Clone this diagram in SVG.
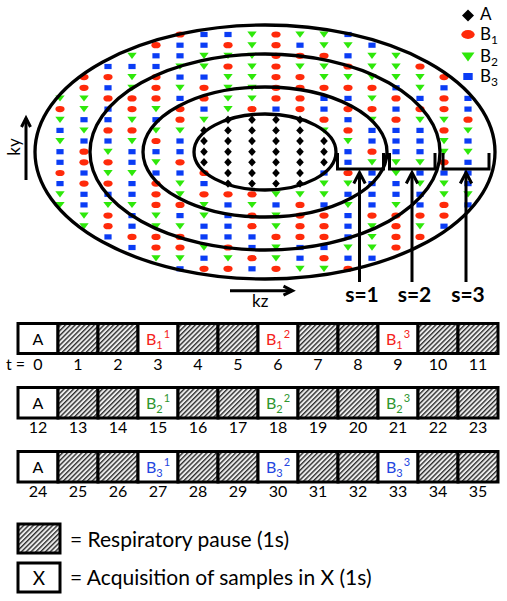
<svg xmlns="http://www.w3.org/2000/svg" xmlns:xlink="http://www.w3.org/1999/xlink" width="507" height="601" viewBox="0 0 507 601">
<style>
text{font-family:Lato,"Open Sans","Liberation Sans",sans-serif;fill:#000}
.n{font-size:16px;text-anchor:middle}
.bx{font-size:16px;text-anchor:middle}
.sm{font-size:11px}
.s{font-size:21px;font-weight:bold;text-anchor:middle}
.ell{fill:none;stroke:#000;stroke-width:3.3}
.ln{fill:none;stroke:#000;stroke-width:3;stroke-linecap:butt}
.cw{fill:#fff;stroke:#000;stroke-width:3}
.ch{fill:url(#h);stroke:#000;stroke-width:3}
.red{fill:#f5221a}.grn{fill:#2f962f}.blu{fill:#2446e0}
</style>
<defs>
<pattern id="h" width="3.4" height="3.4" patternUnits="userSpaceOnUse" patternTransform="rotate(45)">
<rect width="3.4" height="3.4" fill="#ececec"/>
<line x1="0.7" y1="0" x2="0.7" y2="3.4" stroke="#222" stroke-width="1.3"/>
</pattern>
<path id="d" d="M0,-4.2L3.8,0L0,4.2L-3.8,0Z" fill="#000"/>
<ellipse id="r" rx="4.6" ry="3.1" fill="#ff2a0a"/>
<path id="g" d="M-4.7,-3L4.7,-3L0,3.2Z" fill="#2ee80a"/>
<rect id="b" x="-3.6" y="-2.6" width="7.2" height="5.2" fill="#0a3cf5"/>
</defs>

<g id="samples">
<g transform="translate(0,34.5)"><use href="#r" x="180"/><use href="#b" x="204"/><use href="#b" x="228"/><use href="#g" x="252"/><use href="#r" x="276"/><use href="#g" x="300"/><use href="#g" x="324"/><use href="#b" x="348"/></g>
<g transform="translate(0,45.2)"><use href="#r" x="156"/><use href="#b" x="180"/><use href="#b" x="204"/><use href="#r" x="228"/><use href="#g" x="252"/><use href="#r" x="276"/><use href="#b" x="300"/><use href="#g" x="324"/><use href="#g" x="348"/><use href="#b" x="372"/></g>
<g transform="translate(0,55.8)"><use href="#g" x="132"/><use href="#b" x="156"/><use href="#b" x="180"/><use href="#g" x="204"/><use href="#g" x="228"/><use href="#g" x="252"/><use href="#r" x="276"/><use href="#r" x="300"/><use href="#r" x="324"/><use href="#b" x="348"/><use href="#g" x="372"/><use href="#g" x="396"/></g>
<g transform="translate(0,66.5)"><use href="#b" x="108"/><use href="#b" x="132"/><use href="#b" x="156"/><use href="#g" x="180"/><use href="#g" x="204"/><use href="#r" x="228"/><use href="#g" x="252"/><use href="#r" x="276"/><use href="#g" x="300"/><use href="#g" x="324"/><use href="#r" x="348"/><use href="#g" x="372"/><use href="#g" x="396"/><use href="#r" x="420"/></g>
<g transform="translate(0,77.1)"><use href="#r" x="84"/><use href="#r" x="108"/><use href="#g" x="132"/><use href="#r" x="156"/><use href="#b" x="180"/><use href="#b" x="204"/><use href="#g" x="228"/><use href="#g" x="252"/><use href="#r" x="276"/><use href="#r" x="300"/><use href="#g" x="324"/><use href="#g" x="348"/><use href="#g" x="372"/><use href="#g" x="396"/><use href="#g" x="420"/><use href="#r" x="444"/></g>
<g transform="translate(0,87.8)"><use href="#r" x="84"/><use href="#b" x="108"/><use href="#g" x="132"/><use href="#r" x="156"/><use href="#g" x="180"/><use href="#r" x="204"/><use href="#g" x="228"/><use href="#g" x="252"/><use href="#r" x="276"/><use href="#r" x="300"/><use href="#r" x="324"/><use href="#r" x="348"/><use href="#r" x="372"/><use href="#b" x="396"/><use href="#g" x="420"/><use href="#b" x="444"/></g>
<g transform="translate(0,98.4)"><use href="#g" x="60"/><use href="#g" x="84"/><use href="#r" x="108"/><use href="#r" x="132"/><use href="#r" x="156"/><use href="#b" x="180"/><use href="#r" x="204"/><use href="#g" x="228"/><use href="#g" x="252"/><use href="#r" x="276"/><use href="#r" x="300"/><use href="#b" x="324"/><use href="#b" x="348"/><use href="#g" x="372"/><use href="#r" x="396"/><use href="#b" x="420"/><use href="#r" x="444"/><use href="#b" x="468"/></g>
<g transform="translate(0,109.1)"><use href="#r" x="60"/><use href="#g" x="84"/><use href="#b" x="108"/><use href="#r" x="132"/><use href="#g" x="156"/><use href="#r" x="180"/><use href="#b" x="204"/><use href="#g" x="228"/><use href="#r" x="252"/><use href="#b" x="276"/><use href="#r" x="300"/><use href="#b" x="324"/><use href="#r" x="348"/><use href="#r" x="372"/><use href="#b" x="396"/><use href="#r" x="420"/><use href="#r" x="444"/><use href="#b" x="468"/></g>
<g transform="translate(0,119.7)"><use href="#g" x="60"/><use href="#b" x="84"/><use href="#b" x="108"/><use href="#g" x="132"/><use href="#b" x="156"/><use href="#r" x="180"/><use href="#g" x="204"/><use href="#d" x="228"/><use href="#d" x="252"/><use href="#d" x="276"/><use href="#d" x="300"/><use href="#r" x="324"/><use href="#b" x="348"/><use href="#g" x="372"/><use href="#r" x="396"/><use href="#g" x="420"/><use href="#g" x="444"/><use href="#r" x="468"/></g>
<g transform="translate(0,130.4)"><use href="#b" x="60"/><use href="#g" x="84"/><use href="#r" x="108"/><use href="#r" x="132"/><use href="#g" x="156"/><use href="#g" x="180"/><use href="#d" x="204"/><use href="#d" x="228"/><use href="#d" x="252"/><use href="#d" x="276"/><use href="#d" x="300"/><use href="#g" x="324"/><use href="#r" x="348"/><use href="#b" x="372"/><use href="#b" x="396"/><use href="#b" x="420"/><use href="#r" x="444"/><use href="#g" x="468"/></g>
<g transform="translate(0,141)"><use href="#g" x="60"/><use href="#b" x="84"/><use href="#b" x="108"/><use href="#g" x="132"/><use href="#r" x="156"/><use href="#b" x="180"/><use href="#d" x="204"/><use href="#d" x="228"/><use href="#d" x="252"/><use href="#d" x="276"/><use href="#d" x="300"/><use href="#d" x="324"/><use href="#g" x="348"/><use href="#b" x="372"/><use href="#b" x="396"/><use href="#b" x="420"/><use href="#g" x="444"/><use href="#b" x="468"/></g>
<g transform="translate(0,151.7)"><use href="#b" x="60"/><use href="#r" x="84"/><use href="#g" x="108"/><use href="#b" x="132"/><use href="#b" x="156"/><use href="#b" x="180"/><use href="#d" x="204"/><use href="#d" x="228"/><use href="#d" x="252"/><use href="#d" x="276"/><use href="#d" x="300"/><use href="#d" x="324"/><use href="#b" x="348"/><use href="#r" x="372"/><use href="#b" x="396"/><use href="#b" x="420"/><use href="#g" x="444"/><use href="#g" x="468"/></g>
<g transform="translate(0,162.3)"><use href="#b" x="60"/><use href="#r" x="84"/><use href="#r" x="108"/><use href="#b" x="132"/><use href="#g" x="156"/><use href="#r" x="180"/><use href="#d" x="204"/><use href="#d" x="228"/><use href="#d" x="252"/><use href="#d" x="276"/><use href="#d" x="300"/><use href="#d" x="324"/><use href="#b" x="348"/><use href="#g" x="372"/><use href="#g" x="396"/><use href="#g" x="420"/><use href="#r" x="444"/><use href="#b" x="468"/></g>
<g transform="translate(0,173)"><use href="#r" x="60"/><use href="#b" x="84"/><use href="#g" x="108"/><use href="#g" x="132"/><use href="#b" x="156"/><use href="#b" x="180"/><use href="#r" x="204"/><use href="#d" x="228"/><use href="#d" x="252"/><use href="#d" x="276"/><use href="#d" x="300"/><use href="#b" x="324"/><use href="#r" x="348"/><use href="#b" x="372"/><use href="#g" x="396"/><use href="#b" x="420"/><use href="#b" x="444"/><use href="#b" x="468"/></g>
<g transform="translate(0,183.6)"><use href="#b" x="60"/><use href="#r" x="84"/><use href="#r" x="108"/><use href="#b" x="132"/><use href="#r" x="156"/><use href="#g" x="180"/><use href="#b" x="204"/><use href="#d" x="228"/><use href="#d" x="252"/><use href="#d" x="276"/><use href="#d" x="300"/><use href="#g" x="324"/><use href="#g" x="348"/><use href="#b" x="372"/><use href="#b" x="396"/><use href="#g" x="420"/><use href="#g" x="444"/><use href="#b" x="468"/></g>
<g transform="translate(0,194.3)"><use href="#g" x="60"/><use href="#b" x="84"/><use href="#b" x="108"/><use href="#b" x="132"/><use href="#r" x="156"/><use href="#g" x="180"/><use href="#r" x="204"/><use href="#r" x="228"/><use href="#r" x="252"/><use href="#g" x="276"/><use href="#g" x="300"/><use href="#g" x="324"/><use href="#b" x="348"/><use href="#b" x="372"/><use href="#b" x="396"/><use href="#b" x="420"/><use href="#g" x="444"/><use href="#g" x="468"/></g>
<g transform="translate(0,204.9)"><use href="#g" x="60"/><use href="#b" x="84"/><use href="#g" x="108"/><use href="#g" x="132"/><use href="#r" x="156"/><use href="#r" x="180"/><use href="#g" x="204"/><use href="#b" x="228"/><use href="#g" x="252"/><use href="#b" x="276"/><use href="#r" x="300"/><use href="#b" x="324"/><use href="#g" x="348"/><use href="#b" x="372"/><use href="#g" x="396"/><use href="#b" x="420"/><use href="#r" x="444"/><use href="#b" x="468"/></g>
<g transform="translate(0,215.6)"><use href="#g" x="84"/><use href="#r" x="108"/><use href="#b" x="132"/><use href="#g" x="156"/><use href="#b" x="180"/><use href="#g" x="204"/><use href="#b" x="228"/><use href="#r" x="252"/><use href="#g" x="276"/><use href="#r" x="300"/><use href="#r" x="324"/><use href="#b" x="348"/><use href="#r" x="372"/><use href="#r" x="396"/><use href="#r" x="420"/><use href="#r" x="444"/></g>
<g transform="translate(0,226.2)"><use href="#g" x="84"/><use href="#r" x="108"/><use href="#b" x="132"/><use href="#g" x="156"/><use href="#g" x="180"/><use href="#b" x="204"/><use href="#b" x="228"/><use href="#r" x="252"/><use href="#g" x="276"/><use href="#r" x="300"/><use href="#r" x="324"/><use href="#b" x="348"/><use href="#g" x="372"/><use href="#r" x="396"/><use href="#g" x="420"/><use href="#b" x="444"/></g>
<g transform="translate(0,236.9)"><use href="#b" x="108"/><use href="#r" x="132"/><use href="#r" x="156"/><use href="#r" x="180"/><use href="#b" x="204"/><use href="#b" x="228"/><use href="#b" x="252"/><use href="#r" x="276"/><use href="#r" x="300"/><use href="#r" x="324"/><use href="#b" x="348"/><use href="#g" x="372"/><use href="#r" x="396"/><use href="#r" x="420"/></g>
<g transform="translate(0,247.5)"><use href="#b" x="132"/><use href="#r" x="156"/><use href="#r" x="180"/><use href="#g" x="204"/><use href="#r" x="228"/><use href="#b" x="252"/><use href="#g" x="276"/><use href="#b" x="300"/><use href="#b" x="324"/><use href="#g" x="348"/><use href="#g" x="372"/><use href="#r" x="396"/></g>
<g transform="translate(0,258.2)"><use href="#g" x="156"/><use href="#g" x="180"/><use href="#b" x="204"/><use href="#g" x="228"/><use href="#r" x="252"/><use href="#g" x="276"/><use href="#b" x="300"/><use href="#r" x="324"/><use href="#b" x="348"/><use href="#b" x="372"/></g>
<g transform="translate(0,268.8)"><use href="#b" x="180"/><use href="#r" x="204"/><use href="#r" x="228"/><use href="#b" x="252"/><use href="#r" x="276"/><use href="#g" x="300"/><use href="#g" x="324"/><use href="#r" x="348"/></g>
</g>

<g id="rings">
<ellipse class="ell" cx="265" cy="152" rx="230" ry="127"/>
<ellipse class="ell" cx="265" cy="152" rx="175" ry="98"/>
<ellipse class="ell" cx="265" cy="152" rx="122" ry="65"/>
<ellipse class="ell" cx="265" cy="152" rx="71" ry="38"/>
</g>

<g id="legend-top">
<path d="M468,9.5L474,15.5L468,21.5L462,15.5Z" fill="#000"/>
<text x="480" y="20" font-size="17">A</text>
<ellipse cx="468" cy="34.5" rx="6.7" ry="4.4" fill="#ff2a0a"/>
<text x="480" y="39.5" font-size="17">B<tspan font-size="12" dy="4">1</tspan></text>
<path d="M461.5,52.5L474.5,52.5L468,61.5Z" fill="#2ee80a"/>
<text x="480" y="61.5" font-size="17">B<tspan font-size="12" dy="4">2</tspan></text>
<rect x="463.3" y="73" width="9.4" height="7" fill="#0a3cf5"/>
<text x="480" y="82" font-size="17">B<tspan font-size="12" dy="4">3</tspan></text>
</g>

<g id="axes">
<line class="ln" x1="26" y1="180" x2="26" y2="118.5"/>
<path class="ln" d="M21.5,127L26,118L30.5,127"/>
<text transform="translate(20,147) rotate(-90)" font-size="17" text-anchor="middle">ky</text>
<line class="ln" x1="230" y1="290.7" x2="292" y2="290.7"/>
<path class="ln" d="M283.5,286.2L292.5,290.7L283.5,295.2"/>
<text x="252" y="307" font-size="17">kz</text>
</g>

<g id="shells">
<path class="ln" d="M337.5,153V169H383.5V153"/>
<path class="ln" d="M389.5,153V169H435V153"/>
<path class="ln" d="M443,153V169H489V153"/>
<line class="ln" x1="359.5" y1="282" x2="359.5" y2="173"/>
<path class="ln" d="M353.8,183.5L359.5,172.5L365.2,183.5"/>
<line class="ln" x1="412" y1="282" x2="412" y2="173"/>
<path class="ln" d="M406.3,183.5L412,172.5L417.7,183.5"/>
<line class="ln" x1="466" y1="282" x2="466" y2="173"/>
<path class="ln" d="M460.3,183.5L466,172.5L471.7,183.5"/>
<text class="s" x="362" y="302">s=1</text>
<text class="s" x="414.5" y="302">s=2</text>
<text class="s" x="468" y="302">s=3</text>
</g>

<g id="row1">
<rect class="cw" x="18" y="323.5" width="40" height="30"/>
<rect class="ch" x="58" y="323.5" width="40" height="30"/>
<rect class="ch" x="98" y="323.5" width="40" height="30"/>
<rect class="cw" x="138" y="323.5" width="40" height="30"/>
<rect class="ch" x="178" y="323.5" width="40" height="30"/>
<rect class="ch" x="218" y="323.5" width="40" height="30"/>
<rect class="cw" x="258" y="323.5" width="40" height="30"/>
<rect class="ch" x="298" y="323.5" width="40" height="30"/>
<rect class="ch" x="338" y="323.5" width="40" height="30"/>
<rect class="cw" x="378" y="323.5" width="40" height="30"/>
<rect class="ch" x="418" y="323.5" width="40" height="30"/>
<rect class="ch" x="458" y="323.5" width="40" height="30"/>
<text class="bx" x="38" y="345">A</text>
<text class="bx red" x="158" y="345">B<tspan class="sm" dy="4">1</tspan><tspan class="sm" dx="1" dy="-11">1</tspan></text>
<text class="bx red" x="278" y="345">B<tspan class="sm" dy="4">1</tspan><tspan class="sm" dx="1" dy="-11">2</tspan></text>
<text class="bx red" x="398" y="345">B<tspan class="sm" dy="4">1</tspan><tspan class="sm" dx="1" dy="-11">3</tspan></text>
<text x="6" y="370" font-size="16">t =</text>
<text class="n" x="38" y="370">0</text><text class="n" x="78" y="370">1</text><text class="n" x="118" y="370">2</text><text class="n" x="158" y="370">3</text><text class="n" x="198" y="370">4</text><text class="n" x="238" y="370">5</text><text class="n" x="278" y="370">6</text><text class="n" x="318" y="370">7</text><text class="n" x="358" y="370">8</text><text class="n" x="398" y="370">9</text><text class="n" x="438" y="370">10</text><text class="n" x="478" y="370">11</text>
</g>

<g id="row2">
<rect class="cw" x="18" y="387.5" width="40" height="30.5"/>
<rect class="ch" x="58" y="387.5" width="40" height="30.5"/>
<rect class="ch" x="98" y="387.5" width="40" height="30.5"/>
<rect class="cw" x="138" y="387.5" width="40" height="30.5"/>
<rect class="ch" x="178" y="387.5" width="40" height="30.5"/>
<rect class="ch" x="218" y="387.5" width="40" height="30.5"/>
<rect class="cw" x="258" y="387.5" width="40" height="30.5"/>
<rect class="ch" x="298" y="387.5" width="40" height="30.5"/>
<rect class="ch" x="338" y="387.5" width="40" height="30.5"/>
<rect class="cw" x="378" y="387.5" width="40" height="30.5"/>
<rect class="ch" x="418" y="387.5" width="40" height="30.5"/>
<rect class="ch" x="458" y="387.5" width="40" height="30.5"/>
<text class="bx" x="38" y="409">A</text>
<text class="bx grn" x="158" y="409">B<tspan class="sm" dy="4">2</tspan><tspan class="sm" dx="1" dy="-11">1</tspan></text>
<text class="bx grn" x="278" y="409">B<tspan class="sm" dy="4">2</tspan><tspan class="sm" dx="1" dy="-11">2</tspan></text>
<text class="bx grn" x="398" y="409">B<tspan class="sm" dy="4">2</tspan><tspan class="sm" dx="1" dy="-11">3</tspan></text>
<text class="n" x="38" y="433">12</text><text class="n" x="78" y="433">13</text><text class="n" x="118" y="433">14</text><text class="n" x="158" y="433">15</text><text class="n" x="198" y="433">16</text><text class="n" x="238" y="433">17</text><text class="n" x="278" y="433">18</text><text class="n" x="318" y="433">19</text><text class="n" x="358" y="433">20</text><text class="n" x="398" y="433">21</text><text class="n" x="438" y="433">22</text><text class="n" x="478" y="433">23</text>
</g>

<g id="row3">
<rect class="cw" x="18" y="451.5" width="40" height="30.5"/>
<rect class="ch" x="58" y="451.5" width="40" height="30.5"/>
<rect class="ch" x="98" y="451.5" width="40" height="30.5"/>
<rect class="cw" x="138" y="451.5" width="40" height="30.5"/>
<rect class="ch" x="178" y="451.5" width="40" height="30.5"/>
<rect class="ch" x="218" y="451.5" width="40" height="30.5"/>
<rect class="cw" x="258" y="451.5" width="40" height="30.5"/>
<rect class="ch" x="298" y="451.5" width="40" height="30.5"/>
<rect class="ch" x="338" y="451.5" width="40" height="30.5"/>
<rect class="cw" x="378" y="451.5" width="40" height="30.5"/>
<rect class="ch" x="418" y="451.5" width="40" height="30.5"/>
<rect class="ch" x="458" y="451.5" width="40" height="30.5"/>
<text class="bx" x="38" y="473">A</text>
<text class="bx blu" x="158" y="473">B<tspan class="sm" dy="4">3</tspan><tspan class="sm" dx="1" dy="-11">1</tspan></text>
<text class="bx blu" x="278" y="473">B<tspan class="sm" dy="4">3</tspan><tspan class="sm" dx="1" dy="-11">2</tspan></text>
<text class="bx blu" x="398" y="473">B<tspan class="sm" dy="4">3</tspan><tspan class="sm" dx="1" dy="-11">3</tspan></text>
<text class="n" x="38" y="497">24</text><text class="n" x="78" y="497">25</text><text class="n" x="118" y="497">26</text><text class="n" x="158" y="497">27</text><text class="n" x="198" y="497">28</text><text class="n" x="238" y="497">29</text><text class="n" x="278" y="497">30</text><text class="n" x="318" y="497">31</text><text class="n" x="358" y="497">32</text><text class="n" x="398" y="497">33</text><text class="n" x="438" y="497">34</text><text class="n" x="478" y="497">35</text>
</g>

<g id="legend-bottom">
<rect class="ch" x="18" y="524" width="42" height="29"/>
<text x="70" y="547" font-size="21">= Respiratory pause (1s)</text>
<rect class="cw" x="18" y="563" width="42" height="29"/>
<text x="39" y="585" font-size="19" text-anchor="middle">X</text>
<text x="70" y="585" font-size="21">= Acquisition of samples in X (1s)</text>
</g>
</svg>
